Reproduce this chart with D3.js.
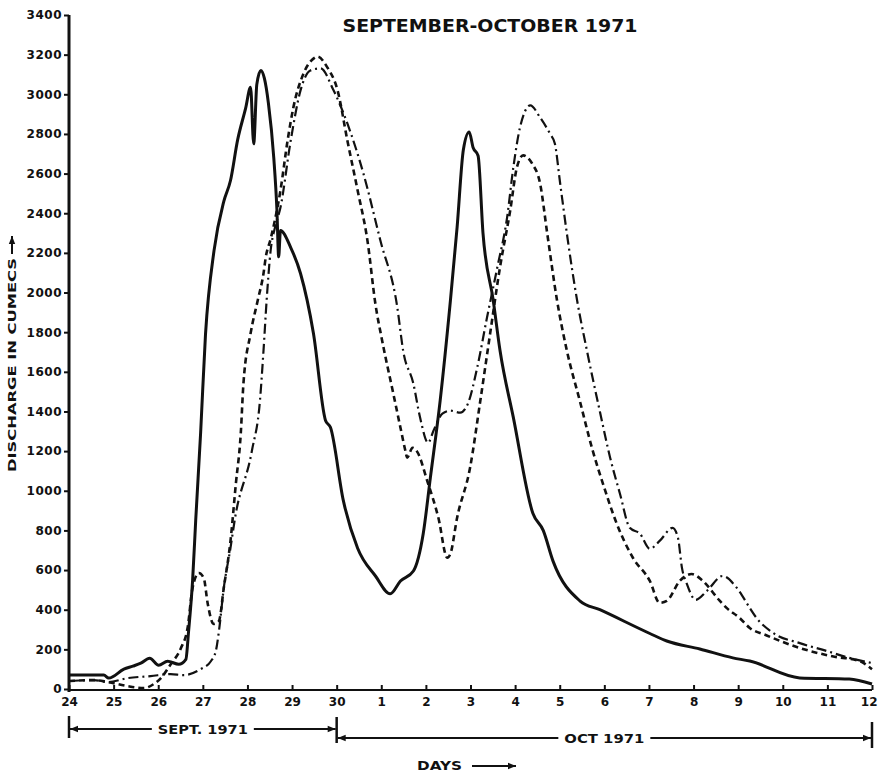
<!DOCTYPE html>
<html>
<head>
<meta charset="utf-8">
<script src="https://cdn.jsdelivr.net/npm/d3@7"></script>
<style>
  body { margin: 0; background: #fff; }
  .d3Chart text { font-family: "DejaVu Sans", sans-serif; font-weight: bold; fill: #111; }
</style>
</head>
<body>
<div class="d3Chart"></div>
<script>
//#region data

// days counted from 24 Sept 1971 (0) to 12 Oct 1971 (18), discharge in cumecs
var solidDays = [0, 0.78, 0.89, 1.23, 1.43, 1.61, 1.81, 2.01, 2.21, 2.46, 2.62, 2.68, 2.77, 2.84, 2.95, 3.06, 3.25, 3.47, 3.62, 3.78, 3.96, 4.07, 4.14, 4.21, 4.30, 4.38, 4.47, 4.59, 4.66, 4.70, 4.74, 4.97, 5.19, 5.48, 5.75, 5.86, 6.15, 6.47, 6.87, 7.20, 7.43, 7.72, 7.94, 8.10, 8.32, 8.55, 8.70, 8.84, 8.97, 9.06, 9.17, 9.28, 9.51, 9.66, 9.96, 10.40, 10.63, 10.85, 11.45, 11.90, 13.02, 13.40, 14.14, 14.88, 15.26, 16.38, 17.49, 18];
var solidFlow = [70, 70, 55, 100, 115, 130, 155, 120, 140, 125, 150, 290, 545, 850, 1290, 1790, 2210, 2460, 2565, 2770, 2930, 3035, 2750, 3050, 3120, 3080, 2955, 2680, 2420, 2180, 2313, 2227, 2096, 1793, 1355, 1320, 950, 710, 570, 480, 545, 595, 783, 1065, 1455, 1960, 2330, 2720, 2810, 2730, 2690, 2300, 1960, 1710, 1370, 885, 800, 645, 445, 400, 280, 242, 202, 157, 141, 56, 50, 25];

var dashedDays = [0, 0.56, 0.87, 1.30, 1.68, 1.90, 2.06, 2.28, 2.51, 2.66, 2.77, 2.91, 3.02, 3.11, 3.24, 3.36, 3.47, 3.62, 3.74, 3.85, 3.91, 4.07, 4.23, 4.36, 4.41, 4.52, 4.74, 4.90, 5.03, 5.26, 5.48, 5.57, 5.79, 6.02, 6.24, 6.47, 6.69, 6.87, 7.02, 7.27, 7.43, 7.54, 7.58, 7.70, 7.81, 8.03, 8.28, 8.48, 8.55, 8.70, 8.99, 9.22, 9.44, 9.66, 9.89, 10.04, 10.18, 10.38, 10.56, 10.72, 10.94, 11.16, 11.45, 11.74, 11.97, 12.28, 12.64, 13.02, 13.24, 13.40, 13.69, 13.96, 14.21, 14.59, 14.74, 15.03, 15.26, 15.64, 16.38, 17.11, 17.72, 18];
var dashedFlow = [40, 45, 35, 15, 5, 25, 55, 125, 207, 310, 510, 585, 560, 430, 328, 343, 510, 747, 1035, 1288, 1540, 1793, 1960, 2096, 2177, 2270, 2515, 2767, 2934, 3106, 3180, 3190, 3136, 3020, 2767, 2515, 2262, 1940, 1757, 1490, 1318, 1202, 1167, 1217, 1195, 1050, 864, 662, 682, 864, 1116, 1454, 1793, 2126, 2414, 2631, 2692, 2651, 2550, 2298, 1960, 1707, 1454, 1202, 1035, 833, 662, 545, 434, 444, 545, 580, 545, 444, 409, 359, 308, 270, 207, 165, 141, 100];

var dashDotDays = [0, 0.56, 0.87, 1.32, 1.83, 2.28, 2.57, 2.95, 3.18, 3.29, 3.36, 3.47, 3.62, 3.72, 4.10, 4.28, 4.36, 4.43, 4.52, 4.62, 4.74, 4.97, 5.19, 5.41, 5.64, 5.93, 6.24, 6.60, 6.98, 7.36, 7.49, 7.72, 7.87, 8.05, 8.17, 8.37, 8.55, 8.77, 8.95, 9.15, 9.37, 9.60, 9.82, 9.96, 10.11, 10.34, 10.56, 10.78, 10.89, 11.01, 11.16, 11.39, 11.61, 11.90, 12.13, 12.35, 12.57, 12.80, 13.02, 13.24, 13.53, 13.65, 13.74, 13.85, 14.05, 14.30, 14.65, 14.97, 15.26, 15.41, 15.77, 16.40, 16.98, 17.49, 18];
var dashDotFlow = [40, 45, 35, 55, 65, 75, 70, 100, 140, 190, 290, 510, 712, 860, 1202, 1454, 1707, 1960, 2212, 2330, 2429, 2767, 3020, 3120, 3131, 3020, 2853, 2600, 2262, 1924, 1707, 1540, 1369, 1242, 1303, 1389, 1404, 1394, 1444, 1621, 1874, 2126, 2378, 2631, 2833, 2944, 2883, 2802, 2752, 2550, 2298, 1960, 1707, 1400, 1167, 985, 813, 783, 707, 747, 813, 763, 611, 530, 450, 495, 570, 510, 409, 359, 285, 230, 192, 157, 131];

var dayLabels = ["24", "25", "26", "27", "28", "29", "30", "1", "2", "3", "4", "5", "6", "7", "8", "9", "10", "11", "12"];
var flowTicks = [0, 200, 400, 600, 800, 1000, 1200, 1400, 1600, 1800, 2000, 2200, 2400, 2600, 2800, 3000, 3200, 3400];

//#endregion

//#region canvas

var width = 878;
var height = 773;
var svg = d3
  .select(".d3Chart")
  .append("svg")
  .attr("width", width)
  .attr("height", height)
  .style("background-color", "#fff");

var defs = svg.append("defs");
defs
  .append("marker")
  .attr("id", "arr")
  .attr("viewBox", "0 -5 10 10")
  .attr("refX", 10)
  .attr("refY", 0)
  .attr("markerWidth", 9)
  .attr("markerHeight", 8)
  .attr("markerUnits", "userSpaceOnUse")
  .attr("orient", "auto-start-reverse")
  .append("path")
  .attr("d", "M0,-4L10,0L0,4Z")
  .attr("fill", "#111");

//#endregion

//#region scales

var x = d3.scaleLinear().domain([0, 18]).range([69, 872]);
var y = d3.scaleLinear().domain([0, 3400]).range([689, 15]);

//#endregion

//#region axes

var yAxis = svg
  .append("g")
  .attr("transform", `translate(${x(0)},0)`)
  .call(
    d3
      .axisLeft(y)
      .tickValues(flowTicks)
      .tickFormat(d3.format("d"))
      .tickSize(5)
      .tickPadding(2)
  );
yAxis.select(".domain").remove();
yAxis.selectAll(".tick line").attr("stroke", "#111").attr("stroke-width", 2);
yAxis
  .selectAll("text")
  .style("font-size", "12px")
  .style("letter-spacing", "0.5px");

svg
  .append("line")
  .attr("x1", x(0))
  .attr("x2", x(0))
  .attr("y1", y(0) + 3)
  .attr("y2", y(3400))
  .attr("stroke", "#111")
  .attr("stroke-width", 3);

var xAxis = svg
  .append("g")
  .attr("transform", `translate(0,${y(0) + 1})`)
  .call(
    d3
      .axisBottom(x)
      .tickValues(d3.range(0, 19))
      .tickFormat((d, i) => dayLabels[i])
      .tickSize(-5)
      .tickPadding(7)
  );
xAxis.select(".domain").remove();
xAxis.selectAll(".tick line").attr("stroke", "#111").attr("stroke-width", 2);
xAxis.selectAll("text").style("font-size", "12px");
// last label sits at the page edge
xAxis
  .selectAll(".tick text")
  .filter((d) => d === 18)
  .attr("text-anchor", "end")
  .attr("dx", 5);

svg
  .append("line")
  .attr("x1", x(0))
  .attr("x2", x(18))
  .attr("y1", y(0) + 1)
  .attr("y2", y(0) + 1)
  .attr("stroke", "#111")
  .attr("stroke-width", 2.2);

//#endregion

//#region hydrographs

var series = [
  { pts: d3.zip(solidDays, solidFlow), w: 3, dash: null },
  { pts: d3.zip(dashedDays, dashedFlow), w: 2.6, dash: "6,4" },
  { pts: d3.zip(dashDotDays, dashDotFlow), w: 2.2, dash: "10,4,2,4" },
];

var line = d3
  .line()
  .x((d) => x(d[0]))
  .y((d) => y(d[1]))
  .curve(d3.curveMonotoneX);

svg
  .selectAll(".flow")
  .data(series)
  .enter()
  .append("path")
  .attr("class", "flow")
  .attr("d", (d) => line(d.pts))
  .attr("fill", "none")
  .attr("stroke", "#111")
  .attr("stroke-width", (d) => d.w)
  .attr("stroke-dasharray", (d) => d.dash)
  .attr("stroke-linejoin", "round");

//#endregion

//#region titles and month brackets

svg
  .append("text")
  .attr("x", 490)
  .attr("y", 32)
  .attr("text-anchor", "middle")
  .attr("textLength", 295)
  .attr("lengthAdjust", "spacingAndGlyphs")
  .style("font-size", "17px")
  .text("SEPTEMBER-OCTOBER 1971");

svg
  .append("text")
  .attr("transform", "translate(16,365) rotate(-90)")
  .attr("text-anchor", "middle")
  .attr("textLength", 214)
  .attr("lengthAdjust", "spacingAndGlyphs")
  .style("font-size", "11px")
  .text("DISCHARGE IN CUMECS");
svg
  .append("line")
  .attr("x1", 12)
  .attr("x2", 12)
  .attr("y1", 254)
  .attr("y2", 236)
  .attr("stroke", "#111")
  .attr("stroke-width", 2)
  .attr("marker-end", "url(#arr)");

// month spans under the day axis
function bracket(d0, d1, yy, label, len) {
  var x0 = x(d0);
  var x1 = x(d1);
  var mid = (x0 + x1) / 2;
  svg
    .append("text")
    .attr("x", mid)
    .attr("y", yy + 5)
    .attr("text-anchor", "middle")
    .attr("textLength", len)
    .attr("lengthAdjust", "spacingAndGlyphs")
    .style("font-size", "12px")
    .text(label);
  svg
    .append("line")
    .attr("x1", mid - len / 2 - 6)
    .attr("x2", x0 + 1)
    .attr("y1", yy)
    .attr("y2", yy)
    .attr("stroke", "#111")
    .attr("stroke-width", 2)
    .attr("marker-end", "url(#arr)");
  svg
    .append("line")
    .attr("x1", mid + len / 2 + 6)
    .attr("x2", x1 - 1)
    .attr("y1", yy)
    .attr("y2", yy)
    .attr("stroke", "#111")
    .attr("stroke-width", 2)
    .attr("marker-end", "url(#arr)");
}
bracket(0, 6, 729, "SEPT. 1971", 90);
bracket(6, 18, 738, "OCT 1971", 80);

[
  [0, 716, 738],
  [6, 717, 743],
  [18, 722, 748],
].forEach((b) => {
  svg
    .append("line")
    .attr("x1", x(b[0]))
    .attr("x2", x(b[0]))
    .attr("y1", b[1])
    .attr("y2", b[2])
    .attr("stroke", "#111")
    .attr("stroke-width", 2.5);
});

svg
  .append("text")
  .attr("x", 417)
  .attr("y", 770)
  .attr("textLength", 45)
  .attr("lengthAdjust", "spacingAndGlyphs")
  .style("font-size", "12px")
  .text("DAYS");
svg
  .append("line")
  .attr("x1", 472)
  .attr("x2", 516)
  .attr("y1", 766)
  .attr("y2", 766)
  .attr("stroke", "#111")
  .attr("stroke-width", 2)
  .attr("marker-end", "url(#arr)");

//#endregion
</script>
</body>
</html>
